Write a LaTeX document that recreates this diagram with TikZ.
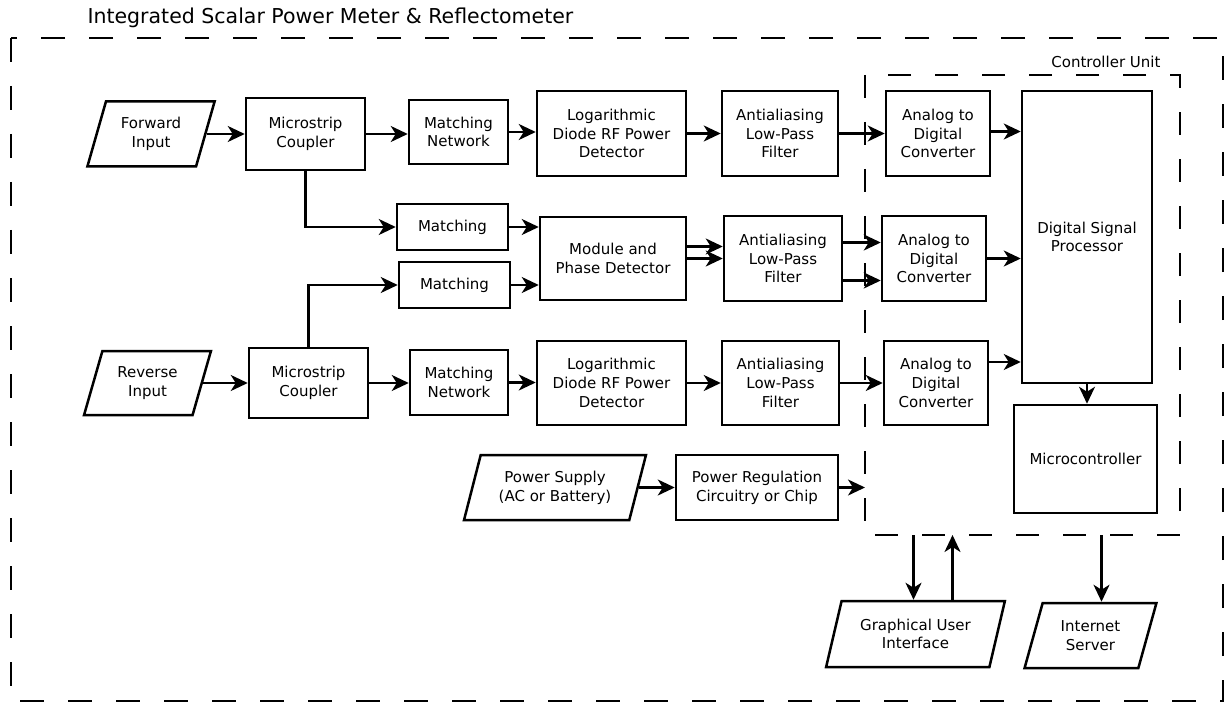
\documentclass[tikz,border=0pt]{standalone}
\usepackage{fontspec}
\setmainfont{DejaVu Sans}
\usetikzlibrary{shapes.geometric,arrows.meta}
\colorlet{box edge}{black}
\tikzset{block/.style={draw=box edge, line width=2.5pt, align=center, inner sep=1pt,
    font=\fontsize{15}{18.8}\selectfont},
  io/.style={block, trapezium, trapezium left angle=70, trapezium right angle=110,
    trapezium stretches=true},
  link/.style={line width=2.2pt, -{Stealth[length=17pt,width=16pt,inset=5pt]}},
  region/.style={draw=box edge, line width=2.2pt, dash pattern=on 24pt off 24pt}}

\begin{document}
\begin{tikzpicture}[x=1pt, y=-1pt]
\useasboundingbox (0,0) rectangle (1225,703);

\draw[region] (11,38) rectangle (1223,701);
\node[anchor=west, font=\fontsize{20.5}{24}\selectfont] (title) at (84,18) {Integrated Scalar Power Meter \& Reflectometer};
\coordinate (ctlNW) at (865,75);
\coordinate (ctlSE) at (1180,535);
\draw[region, dash pattern=on 23pt off 24pt] (ctlNW) rectangle (ctlSE);
\node[anchor=east, font=\fontsize{15}{18}\selectfont] (ctllabel) at (1164,62) {Controller Unit};

% forward branch
\node[io, minimum width=128pt, minimum height=65pt] (fwd) at (151,134) {Forward\\Input};
\node[block, minimum width=119pt, minimum height=72pt] (cplA) at (305.5,134) {Microstrip\\Coupler};
\node[block, minimum width=99pt, minimum height=64pt] (mnA) at (458.5,132) {Matching\\Network};
\node[block, minimum width=149pt, minimum height=85pt] (logA) at (611.5,133.5) {Logarithmic\\Diode RF Power\\Detector};
\node[block, minimum width=116pt, minimum height=85pt] (aaA) at (780,133.5) {Antialiasing\\Low-Pass\\Filter};
\node[block, minimum width=104pt, minimum height=85pt] (adcA) at (938,133.5) {Analog to\\Digital\\Converter};

% phase branch
\node[block, minimum width=111pt, minimum height=46pt] (mtA) at (452.5,227) {Matching};
\node[block, minimum width=111pt, minimum height=46pt] (mtB) at (454.5,285) {Matching};
\node[block, minimum width=146pt, minimum height=83pt] (mpd) at (613,258.5) {Module and\\Phase Detector};
\node[block, minimum width=118pt, minimum height=85pt] (aaB) at (783,258.5) {Antialiasing\\Low-Pass\\Filter};
\node[block, minimum width=104pt, minimum height=85pt] (adcB) at (934,258.5) {Analog to\\Digital\\Converter};

% reverse branch
\node[io, minimum width=127pt, minimum height=64pt] (rev) at (147.5,383) {Reverse\\Input};
\node[block, minimum width=119pt, minimum height=70pt] (cplB) at (308.5,383) {Microstrip\\Coupler};
\node[block, minimum width=98pt, minimum height=65pt] (mnB) at (459,382.5) {Matching\\Network};
\node[block, minimum width=149pt, minimum height=84pt] (logB) at (611.5,383) {Logarithmic\\Diode RF Power\\Detector};
\node[block, minimum width=117pt, minimum height=84pt] (aaC) at (780.5,383) {Antialiasing\\Low-Pass\\Filter};
\node[block, minimum width=104pt, minimum height=84pt] (adcC) at (936,383) {Analog to\\Digital\\Converter};

% power
\node[io, minimum width=182pt, minimum height=65pt] (psu) at (555,487.5) {Power Supply\\(AC or Battery)};
\node[block, minimum width=162pt, minimum height=65pt] (preg) at (757,487.5) {Power Regulation\\Circuitry or Chip};

% controller
\node[block, minimum width=130pt, minimum height=292pt] (dsp) at (1087,237) {Digital Signal\\Processor};
\node[block, minimum width=143pt, minimum height=108pt] (mcu) at (1085.5,459) {Microcontroller};
\node[io, minimum width=179pt, minimum height=66pt] (gui) at (915.5,634) {Graphical User\\Interface};
\node[io, minimum width=133pt, minimum height=65pt] (inet) at (1090.5,635.5) {Internet\\Server};

\draw[link] (fwd.east) -- (fwd.east -| cplA.west);
\draw[link] (cplA.east) -- (cplA.east -| mnA.west);
\draw[link] (mnA.east) -- (mnA.east -| logA.west);
\draw[link] (logA.east) -- (logA.east -| aaA.west);
\draw[link] (aaA.east) -- (aaA.east -| adcA.west);
\draw[link] ([yshift=2pt]adcA.east) -- ([yshift=2pt]adcA.east -| dsp.west);

\draw[link] (cplA.south) |- (mtA.west);
\draw[link] (cplB.north) |- (mtB.west);
\draw[link] (mtA.east) -- (mtA.east -| mpd.west);
\draw[link] (mtB.east) -- (mtB.east -| mpd.west);
\draw[link] ([yshift=12pt]mpd.east) -- ([yshift=12pt]mpd.east -| aaB.west);
\draw[link] ([yshift=0pt]mpd.east) -- ([yshift=0pt]mpd.east -| aaB.west);
\draw[link] ([yshift=16pt]aaB.east) -- ([yshift=16pt]aaB.east -| adcB.west);
\draw[link] ([yshift=-22pt]aaB.east) -- ([yshift=-22pt]aaB.east -| adcB.west);
\draw[link] (adcB.east) -- (adcB.east -| dsp.west);

\draw[link] (rev.east) -- (rev.east -| cplB.west);
\draw[link] (cplB.east) -- (cplB.east -| mnB.west);
\draw[link] (mnB.east) -- (mnB.east -| logB.west);
\draw[link] (logB.east) -- (logB.east -| aaC.west);
\draw[link] (aaC.east) -- (aaC.east -| adcC.west);
\draw[link] ([yshift=21pt]adcC.east) -- ([yshift=21pt]adcC.east -| dsp.west);

\draw[link] (psu.east) -- (psu.east -| preg.west);
\draw[link] (preg.east) -- (preg.east -| ctlNW);
\draw[link] (dsp.south) -- (dsp.south |- mcu.north);

\draw[link] ([xshift=-2pt]gui.north |- ctlSE) -- ([xshift=-2pt]gui.north);
\draw[link] ([xshift=37pt]gui.north) -- ([xshift=37pt]gui.north |- ctlSE);
\draw[link] ([xshift=11pt]inet.north |- ctlSE) -- ([xshift=11pt]inet.north);
\end{tikzpicture}
\end{document}
